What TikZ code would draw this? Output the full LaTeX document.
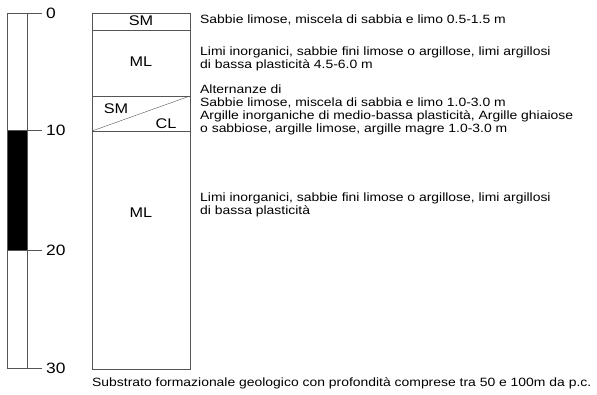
\documentclass[tikz,border=0pt]{standalone}
\usepackage{fontspec}
\setmainfont[FakeStretch=1.16]{Liberation Sans}
\usepackage{tikz}
\usetikzlibrary{positioning}
\definecolor{LogGray}{RGB}{85,85,85}

\begin{document}
\begin{tikzpicture}[x=1pt, y=-1pt,
    soil/.style={font=\fontsize{14}{14}\selectfont, inner sep=0pt},
    descr/.style={font=\fontsize{12}{13}\selectfont, anchor=west,
                  align=left, inner sep=0pt},
    depth/.style={font=\fontsize{15}{15}\selectfont, anchor=west,
                  inner sep=0pt}]
  \useasboundingbox (0,0) rectangle (597,395);
  % depth scale
  \fill[black] (7,130) rectangle (27,250);
  \draw[LogGray] (7,13) rectangle (27,368);
  \foreach \d/\y in {0/13, 10/130, 20/250, 30/368} {
    \draw[LogGray] (7,\y) -- (42,\y);
    \node[depth] (d\d) at (46,\y) {\d};
  }
  % log column
  \draw[LogGray] (92,13) rectangle (190,369);
  \draw[LogGray] (92,30) -- (190,30);
  \draw[LogGray] (92,96) -- (190,96);
  \draw[LogGray] (92,131) -- (190,131);
  \draw[LogGray] (92,131) -- (190,96);
  \node[soil] (sm1) at (141,21) {SM};
  \node[soil] (ml1) at (141,62) {ML};
  \node[soil] (sm2) at (116,109) {SM};
  \node[soil] (cl) at (166,124) {CL};
  \node[soil] (ml2) at (141,213) {ML};
  % descriptions
  \node[descr] (t1) at (200,20)
        {Sabbie limose, miscela di sabbia e limo 0.5-1.5 m};
  \node[descr] (t2) at (200,59)
        {Limi inorganici, sabbie fini limose o argillose, limi argillosi\\
         di bassa plasticità 4.5-6.0 m};
  \node[descr] (t3) at (200,110)
        {Alternanze di\\
         Sabbie limose, miscela di sabbia e limo 1.0-3.0 m\\
         Argille inorganiche di medio-bassa plasticità, Argille ghiaiose\\
         o sabbiose, argille limose, argille magre 1.0-3.0 m};
  \node[descr] (t4) at (200,205)
        {Limi inorganici, sabbie fini limose o argillose, limi argillosi\\
         di bassa plasticità};
  \node[descr] (foot) at (92,383)
        {Substrato formazionale geologico con profondità comprese tra 50 e 100m da p.c.};
\end{tikzpicture}
\end{document}
